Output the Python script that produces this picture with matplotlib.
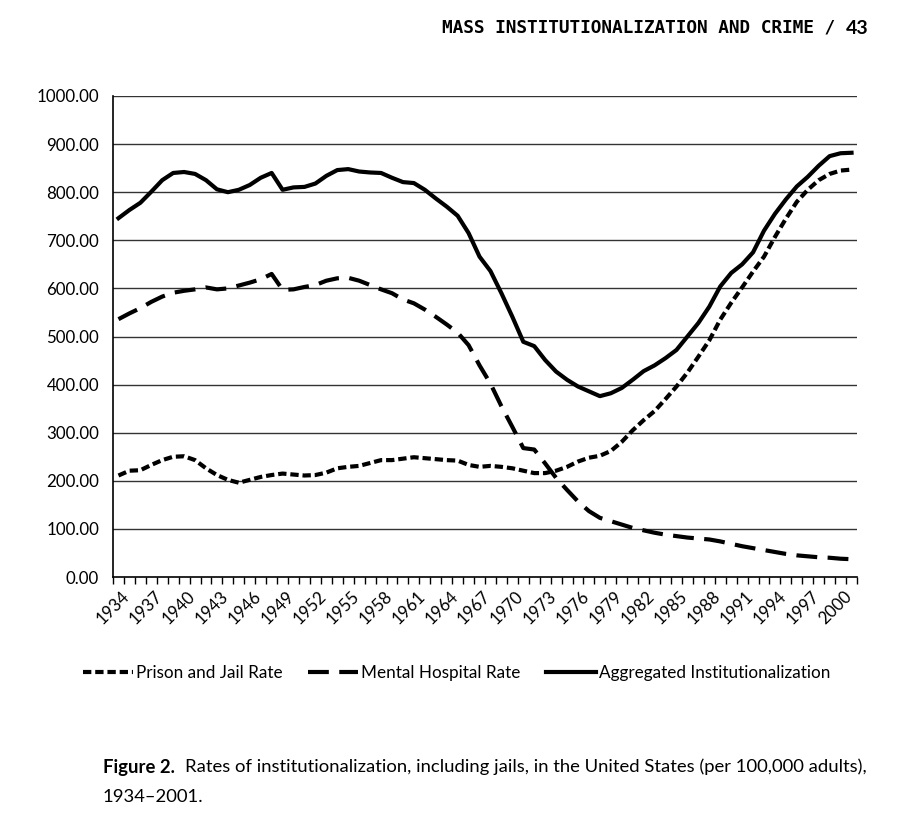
import matplotlib
matplotlib.use("Agg")
import matplotlib.pyplot as plt
from matplotlib.ticker import FixedLocator, FuncFormatter
import matplotlib.transforms as mtransforms

years = list(range(1934, 2002))

prison_jail = [211, 221, 222, 233, 243, 250, 251, 243, 226, 212, 202, 196, 202, 208, 212, 215,
               213, 211, 212, 217, 226, 229, 231, 237, 243, 243, 246, 249, 247, 245, 243, 242,
               233, 229, 231, 229, 226, 221, 216, 216, 221, 229, 240, 248, 252, 262, 281, 305,
               326, 345, 370, 396, 425, 458, 492, 535, 570, 602, 635, 666, 707, 745, 780, 805,
               825, 838, 845, 847]

mental_hospital = [536, 548, 559, 572, 583, 591, 595, 598, 602, 598, 600, 606, 612, 619, 630, 597,
                   598, 603, 607, 616, 621, 622, 616, 607, 598, 590, 577, 569, 556, 541, 525, 508,
                   482, 440, 402, 355, 312, 268, 265, 236, 206, 181, 157, 137, 123, 116, 109, 102,
                   97, 92, 88, 85, 82, 80, 78, 74, 69, 64, 60, 56, 52, 48, 45, 43,
                   41, 40, 38, 37]

aggregated = [746, 763, 778, 801, 825, 840, 842, 838, 825, 806, 800, 805, 815, 830, 840, 805,
              810, 811, 818, 834, 846, 848, 843, 841, 840, 830, 821, 819, 805, 787, 770, 751,
              715, 666, 636, 590, 541, 489, 480, 451, 427, 410, 396, 386, 376, 382, 393, 410,
              428, 440, 455, 472, 500, 528, 562, 604, 632, 650, 675, 720, 755, 785, 812, 832,
              855, 875, 881, 882]

y_ticks = [0, 100, 200, 300, 400, 500, 600, 700, 800, 900, 1000]
x_label_years = list(range(1934, 2001, 3))

series_names = ["Prison and Jail Rate", "Mental Hospital Rate", "Aggregated Institutionalization"]

plt.rcParams['lines.scale_dashes'] = False
FONT = ['Lato', 'DejaVu Sans']

fig = plt.figure(figsize=(9, 8.25), dpi=100)
ax = fig.add_axes([113/900, 1-577/825, (857-113)/900, (577-96)/825])

x = list(range(len(years)))
lw = 3.0
ax.plot(x, prison_jail, color='black', lw=lw, dashes=(6, 2.8), label=series_names[0],
        dash_capstyle='butt', zorder=3)
ax.plot(x, mental_hospital, color='black', lw=lw, dashes=(15, 7.5), label=series_names[1],
        dash_capstyle='butt', zorder=3)
ax.plot(x, aggregated, color='black', lw=lw, label=series_names[2], zorder=3)

ax.set_xlim(-0.5, len(years) - 0.5)
ax.set_ylim(0, 1000)

for v in y_ticks[1:]:
    ax.axhline(v, color='#333333', lw=1.0, zorder=1)

ax.set_yticks(y_ticks)
ax.yaxis.set_major_formatter(FuncFormatter(lambda v, p: f"{v:.2f}"))
ax.tick_params(axis='y', length=0, pad=10, labelsize=12.2)
for lab in ax.get_yticklabels():
    lab.set_fontfamily(FONT)

label_pos = [years.index(y) for y in x_label_years]
ax.set_xticks(label_pos)
ax.set_xticklabels([str(y) for y in x_label_years], rotation=45, ha='right',
                   rotation_mode='anchor', fontsize=12.2, fontfamily=FONT)
ax.tick_params(axis='x', which='major', length=0, pad=8)
ax.xaxis.set_minor_locator(FixedLocator([i - 0.5 for i in range(len(years) + 1)]))
ax.tick_params(axis='x', which='minor', length=5, width=1.0, direction='out', color='black')
offset = mtransforms.ScaledTranslation(3/100, 0, fig.dpi_scale_trans)
for lab in ax.get_xticklabels():
    lab.set_transform(lab.get_transform() + offset)

for s in ['top', 'right']:
    ax.spines[s].set_visible(False)
ax.spines['left'].set_linewidth(1.2)
ax.spines['bottom'].set_linewidth(1.2)

leg = fig.legend(loc='center', bbox_to_anchor=(457/900, 1-673/825), ncol=3, frameon=False,
                 handlelength=2.9, handletextpad=0.2, columnspacing=1.5,
                 prop={'family': FONT, 'size': 12.3})

# header
fig.text(835/900, 1-28/825, "MASS INSTITUTIONALIZATION AND CRIME /", ha='right', va='center',
         fontfamily='DejaVu Sans Mono', fontweight='bold', fontsize=12.8)
fig.text(868/900, 1-28/825, "43", ha='right', va='center',
         fontfamily=FONT, fontweight='bold', fontsize=14)

# caption
t1 = fig.text(103/900, 1-767/825, "Figure 2.", ha='left', va='center',
              fontfamily=FONT, fontweight='bold', fontsize=13.3)
fig.canvas.draw()
bb = t1.get_window_extent(renderer=fig.canvas.get_renderer())
x_rest = (bb.x1 + 10) / fig.bbox.width
fig.text(x_rest, 1-767/825,
         "Rates of institutionalization, including jails, in the United States (per 100,000 adults),",
         ha='left', va='center', fontfamily=FONT, fontsize=13.3)
fig.text(103/900, 1-797/825, "1934\u20132001.", ha='left', va='center',
         fontfamily=FONT, fontsize=13.3)

fig.savefig("out.png", dpi=100, facecolor='white')
